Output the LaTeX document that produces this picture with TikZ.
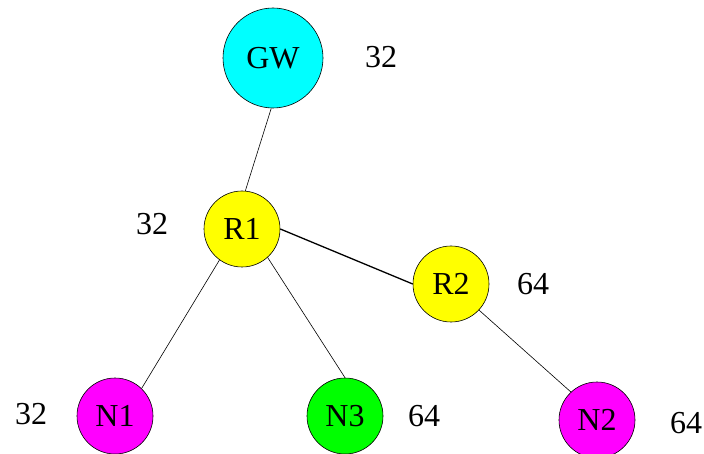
\documentclass[tikz,border=0pt]{standalone}
\usepackage{fontspec}
\setmainfont{Liberation Serif}
\definecolor{gwcyan}{RGB}{0,255,255}
\definecolor{ryellow}{RGB}{255,255,0}
\definecolor{nmagenta}{RGB}{255,0,255}
\definecolor{ngreen}{RGB}{0,255,0}
\begin{document}
\begin{tikzpicture}[x=1pt,y=-1pt,
  host/.style={circle,draw,line width=0.6pt,inner sep=0pt,minimum size=76pt,font=\fontsize{32}{38}\selectfont},
  lbl/.style={inner sep=0pt,font=\fontsize{32}{38}\selectfont}]
\useasboundingbox (0,0) rectangle (704,454);
\node[host,fill=gwcyan,minimum size=100pt] (gw) at (273,58) {GW};
\node[host,fill=ryellow] (r1) at (242,229) {R1};
\node[host,fill=ryellow] (r2) at (451,284) {R2};
\node[host,fill=nmagenta] (n1) at (115,416) {N1};
\node[host,fill=ngreen] (n3) at (345,416) {N3};
\node[host,fill=nmagenta] (n2) at (597,420) {N2};
\draw[line width=0.6pt] (gw.-92)--(r1.85);
\draw[line width=1.3pt] (r1.east)--(r2.west);
\draw[line width=0.6pt] (r1.234)--(n1.46);
\draw[line width=0.6pt] (r1.312)--(n3.north);
\draw[line width=0.6pt] (r2.317)--(n2.133);
\node[lbl] (gwsize) at (381,57) {32};
\node[lbl] (r1size) at (152,224) {32};
\node[lbl] (r2size) at (533,284) {64};
\node[lbl] (n1size) at (31,414) {32};
\node[lbl] (n3size) at (424,416) {64};
\node[lbl] (n2size) at (686,423) {64};
\end{tikzpicture}
\end{document}
